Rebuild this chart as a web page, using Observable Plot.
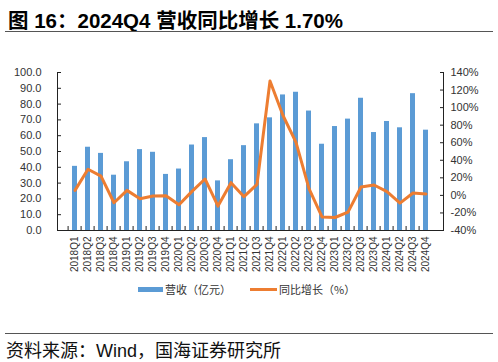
<!DOCTYPE html>
<html>
<head>
<meta charset="utf-8">
<script src="https://cdn.jsdelivr.net/npm/d3@7"></script>
<script src="https://cdn.jsdelivr.net/npm/@observablehq/plot@0.6"></script>
<style>
  html, body { margin: 0; padding: 0; background: #fff; }
  body { width: 498px; height: 362px; position: relative; overflow: hidden;
         font-family: "Liberation Sans", Arial, "Noto Sans CJK SC", sans-serif; }
  #title { position: absolute; left: 8px; top: 4px; font-size: 20.5px; font-weight: bold; color: #000;
           font-family: "Liberation Sans", Arial, "Noto Sans CJK SC", sans-serif; white-space: nowrap; }
  .hr { position: absolute; left: 5px; width: 488px; height: 0; border-top: 1.5px solid #555; }
  #chart { position: absolute; left: 0; top: 40px; }
  #legend { position: absolute; top: 281px; left: 0; width: 498px; height: 16px; font-size: 11px; color: #333;
            font-family: "Noto Sans CJK SC", sans-serif; }
  .sw { position: absolute; }
  .lt { position: absolute; top: 0; white-space: nowrap; }
  #source { position: absolute; left: 6px; top: 336px; font-size: 18px; color: #111; white-space: nowrap;
            font-family: "Liberation Sans", Arial, "Noto Sans CJK SC", sans-serif; }
</style>
</head>
<body>
<div id="title">图 16：2024Q4 营收同比增长 1.70%</div>
<div class="hr" style="top:31px"></div>
<div id="chart"></div>
<div id="legend"></div>
<div class="hr" style="top:333px"></div>
<div id="source">资料来源：Wind，国海证券研究所</div>
<script>
const quarters = ["2018Q1","2018Q2","2018Q3","2018Q4","2019Q1","2019Q2","2019Q3","2019Q4",
  "2020Q1","2020Q2","2020Q3","2020Q4","2021Q1","2021Q2","2021Q3","2021Q4",
  "2022Q1","2022Q2","2022Q3","2022Q4","2023Q1","2023Q2","2023Q3","2023Q4",
  "2024Q1","2024Q2","2024Q3","2024Q4"];
const revenue = [40.6,52.7,48.8,35.0,43.5,51.2,49.5,35.5,
  38.9,54.1,58.8,31.4,44.8,53.7,67.5,71.3,
  85.8,87.5,75.6,54.6,65.8,70.5,83.7,62.0,
  69.0,65.0,86.6,63.5];
const yoy = [5.7,29.8,22.0,-8.4,5.7,-3.8,-0.8,-0.5,
  -10.7,4.6,18.7,-12.2,14.5,-1.5,12.6,130.3,
  91.0,60.4,7.6,-24.5,-25.2,-19.1,9.6,11.8,
  4.2,-8.8,2.7,1.7];
const leftTicks = [0,10,20,30,40,50,60,70,80,90,100];
const rightTicks = [-40,-20,0,20,40,60,80,100,120,140];
const seriesNames = ["营收（亿元）","同比增长（%）"];
const colors = ["#5B9BD5","#ED7D31"];

// right axis (-40%..140%) mapped onto left scale (0..100)
const pMin = -40, pMax = 140;
const toLeft = p => (p - pMin) / (pMax - pMin) * 100;
const fromLeft = v => Math.round(v * (pMax - pMin) / 100 + pMin);

const rows = quarters.map((q, i) => ({q, rev: revenue[i], yoy: yoy[i]}));

const W = 498, H = 260, mL = 57, mR = 55;
const step = (W - mL - mR) / quarters.length;

const chart = Plot.plot({
  width: W, height: H,
  marginTop: 32, marginBottom: 70, marginLeft: mL, marginRight: mR,
  style: {fontFamily: "Liberation Sans, Arial, sans-serif", fontSize: "11px", color: "#333", background: "transparent", overflow: "visible"},
  x: {type: "band", domain: quarters, paddingInner: 0.6, paddingOuter: 0.3, label: null},
  y: {domain: [0, 100], label: null},
  marks: [
    Plot.barY(rows, {x: "q", y: "rev", fill: colors[0]}),
    Plot.line(rows, {x: "q", y: d => toLeft(d.yoy), stroke: colors[1], strokeWidth: 3, strokeLinejoin: "round", strokeLinecap: "round"}),
    Plot.axisY({anchor: "left", ticks: leftTicks, tickFormat: d => d.toFixed(1), tickSize: -4, tickPadding: 20, fontSize: 11, stroke: "#222", label: null}),
    Plot.axisY({anchor: "right", ticks: rightTicks.map(toLeft), tickFormat: v => fromLeft(v) + "%", tickSize: -4, tickPadding: 11, fontSize: 11, stroke: "#222", label: null}),
    Plot.axisX({anchor: "bottom", tickSize: 0, tickPadding: 6, tickRotate: -90, fontSize: 10, label: null}),
    Plot.axisX({anchor: "bottom", tickSize: -4, tickFormat: () => "", dx: -step / 2, stroke: "#222", label: null}),
    Plot.frame({anchor: "left", stroke: "#222"}),
    Plot.frame({anchor: "right", stroke: "#222"}),
    Plot.frame({anchor: "bottom", stroke: "#222"})
  ]
});
document.getElementById("chart").appendChild(chart);

// legend
const legend = document.getElementById("legend");
const items = [
  {sx: 138, sw: 25, sh: 5, tx: 165},
  {sx: 250, sw: 27, sh: 3, tx: 279}
];
seriesNames.forEach((name, i) => {
  const sw = document.createElement("div");
  sw.className = "sw";
  sw.style.left = items[i].sx + "px";
  sw.style.width = items[i].sw + "px";
  sw.style.height = items[i].sh + "px";
  sw.style.top = (8 - items[i].sh / 2) + "px";
  sw.style.background = colors[i];
  legend.appendChild(sw);
  const t = document.createElement("div");
  t.className = "lt";
  t.style.left = items[i].tx + "px";
  t.textContent = name;
  legend.appendChild(t);
});
</script>
</body>
</html>
